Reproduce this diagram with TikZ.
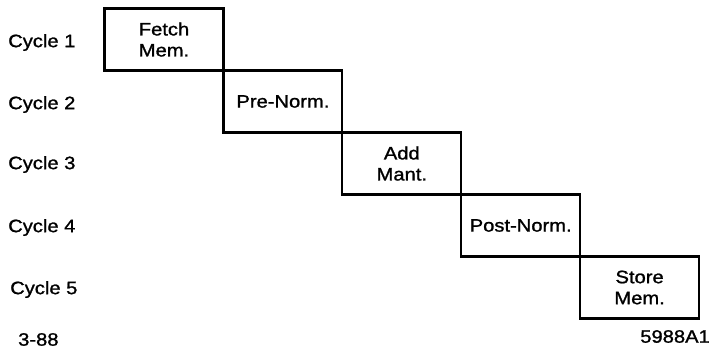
\documentclass[tikz,border=0pt]{standalone}
\usepackage{fontspec}
\setmainfont{Liberation Sans}[FakeStretch=1.12, FakeBold=1.2]
\begin{document}
\begin{tikzpicture}[x=1pt,y=-1pt,
  stage/.style={draw=black, line width=2.2pt, minimum width=118.9pt, minimum height=62pt,
     inner sep=0pt, align=center, font=\fontsize{18}{21}\selectfont},
  lbl/.style={inner sep=0pt, anchor=west, font=\fontsize{18}{21}\selectfont}]
\useasboundingbox (0,0) rectangle (711,349);
\node[stage] (b1) at (164.0,39.5) {Fetch\\Mem.};
\node[stage] (b2) at (282.9,101.5) {Pre-Norm.};
\node[stage] (b3) at (401.8,163.5) {Add\\Mant.};
\node[stage] (b4) at (520.7,225.5) {Post-Norm.};
\node[stage] (b5) at (639.6,287.5) {Store\\Mem.};
\node[lbl] (c1) at (8,42.5) {Cycle 1};
\node[lbl] (c2) at (8,104.5) {Cycle 2};
\node[lbl] (c3) at (8,164.5) {Cycle 3};
\node[lbl] (c4) at (8,227.5) {Cycle 4};
\node[lbl] (c5) at (10,289.5) {Cycle 5};
\node[lbl] (d1) at (18,339.5) {3-88};
\node[lbl, anchor=east] (d2) at (710,336.5) {5988A1};
\end{tikzpicture}
\end{document}
